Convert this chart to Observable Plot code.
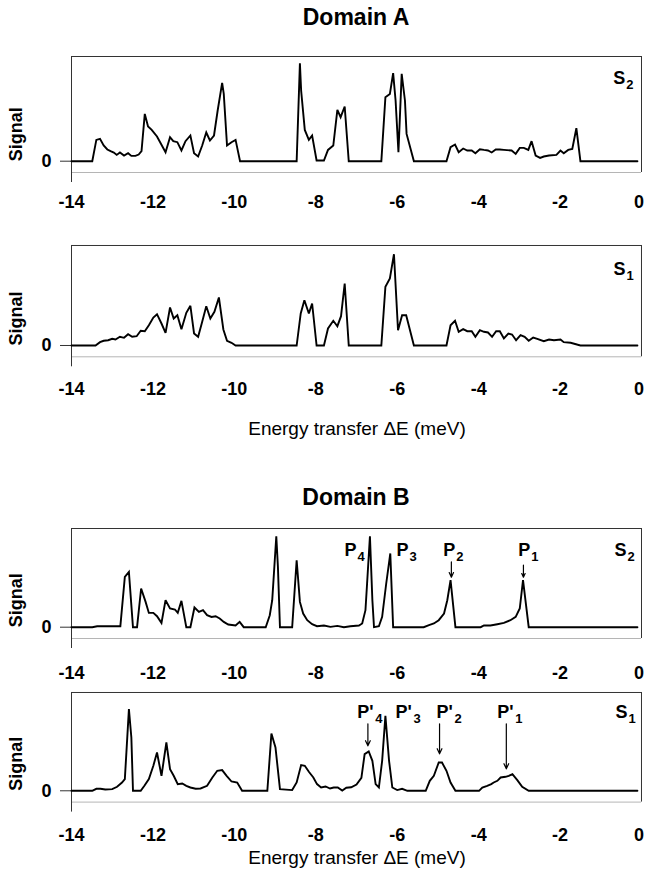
<!DOCTYPE html>
<html>
<head>
<meta charset="utf-8">
<script src="https://cdn.jsdelivr.net/npm/d3@7"></script>
<script src="https://cdn.jsdelivr.net/npm/@observablehq/plot@0.6"></script>
<style>
  body { margin: 0; background: #fff; }
  #fig { position: relative; width: 645px; height: 875px; overflow: hidden; font-family: "Liberation Sans", Arial, sans-serif; color: #000; }
  .title { position: absolute; left: 56px; width: 600px; text-align: center; font-weight: bold; font-size: 23px; line-height: 23px; }
  .xlab { position: absolute; left: 57px; width: 600px; text-align: center; font-size: 19px; line-height: 19px; }
  .panel { position: absolute; left: 0; }
</style>
</head>
<body>
<div id="fig"></div>
<script>
// ---------- data (Energy transfer ΔE in meV, signal in arbitrary units) ----------
const xTicks = [-14, -12, -10, -8, -6, -4, -2, 0];

// Domain A, S2
const eA2 = [-14,-13.49,-13.39,-13.30,-13.21,-13.12,-13.04,-12.96,-12.89,-12.81,-12.71,-12.61,-12.53,-12.43,-12.35,-12.28,-12.20,-12.12,-12.03,-11.90,-11.81,-11.69,-11.58,-11.50,-11.40,-11.30,-11.20,-11.08,-10.99,-10.89,-10.79,-10.69,-10.60,-10.50,-10.41,-10.30,-10.26,-10.18,-10.07,-9.97,-9.86,-8.47,-8.39,-8.36,-8.27,-8.17,-8.09,-7.98,-7.80,-7.70,-7.57,-7.47,-7.39,-7.29,-7.19,-6.39,-6.29,-6.18,-6.10,-6.04,-5.97,-5.89,-5.81,-5.77,-5.59,-4.79,-4.69,-4.58,-4.49,-4.38,-4.28,-4.17,-4.08,-3.97,-3.87,-3.77,-3.68,-3.58,-3.48,-3.38,-3.19,-3.09,-2.99,-2.89,-2.78,-2.70,-2.60,-2.49,-2.40,-2.27,-2.09,-1.99,-1.91,-1.80,-1.70,-1.60,-1.50,-0.1];
const sA2 = [0,0,21.3,22.3,15.7,11.7,10,8.7,6.3,8.7,5.7,8,5.3,5.3,6.7,10,47.3,34.7,31.3,24.7,18,9,24,20,19,10.7,20,25.7,8,4.7,15.7,28.7,20.7,25.7,50.7,78.3,67.3,15.7,19,21.3,0,0,98,70.7,31.3,21.3,25.7,0.7,0.7,11.3,15.7,51.3,44,54.7,0,0,64,67.3,88,60.7,9,87.3,60.7,27.3,0,0,14,16.7,9,12.7,10.7,10.7,8,12,11.3,10.7,8.7,11.7,11.7,11.3,10.7,7.3,13.3,13.3,11.3,20,5.7,3.3,4.7,5.7,6.3,10.7,8,11.3,12.3,33,0,0];

// Domain A, S1
const eA1 = [-14,-13.41,-13.30,-13.21,-13.10,-13.00,-12.92,-12.81,-12.71,-12.61,-12.51,-12.40,-12.30,-12.20,-12.10,-11.99,-11.90,-11.79,-11.69,-11.58,-11.49,-11.40,-11.30,-11.18,-11.08,-10.99,-10.89,-10.79,-10.69,-10.59,-10.49,-10.38,-10.27,-10.18,-10.07,-9.97,-8.47,-8.37,-8.28,-8.17,-8.09,-7.98,-7.80,-7.70,-7.57,-7.47,-7.38,-7.29,-7.19,-6.39,-6.29,-6.18,-6.08,-5.98,-5.88,-5.78,-5.59,-4.79,-4.69,-4.58,-4.49,-4.38,-4.28,-4.17,-4.08,-3.97,-3.87,-3.77,-3.67,-3.57,-3.48,-3.38,-3.27,-3.18,-3.08,-2.97,-2.87,-2.77,-2.66,-2.56,-2.40,-2.27,-2.15,-1.99,-1.91,-1.74,-1.50,-0.1];
const sA1 = [0,0,3.3,4.7,5.3,6.7,6,8.7,7.7,11.3,8.7,9.3,14.7,14.3,20.3,28,31.3,22,12.7,38,27,30.3,16.3,32.7,39.7,12,8.7,23.7,39.3,27,33.7,48,16,4.7,2.7,0,0,32,45.3,32,42,0,0,17,24.7,19.3,29.3,62,0,0,58.7,67,91.3,15.3,30.3,30.3,0,0,20.3,24.7,13.7,16.3,14.3,14.3,8.7,15.3,13.7,13,8.7,14.3,14.3,7,12,11,5.3,10.3,8.7,4.7,8,6.7,4.3,6,5.3,6,3.3,2.7,0,0];

// Domain B, S2
const eB2 = [-14,-13.49,-13.37,-12.80,-12.69,-12.59,-12.49,-12.39,-12.29,-12.18,-12.10,-11.99,-11.90,-11.79,-11.69,-11.58,-11.46,-11.39,-11.30,-11.18,-11.08,-10.98,-10.87,-10.77,-10.67,-10.56,-10.46,-10.36,-10.26,-10.15,-9.97,-9.87,-9.77,-9.23,-9.13,-9.07,-8.97,-8.93,-8.88,-8.58,-8.47,-8.39,-8.31,-8.21,-8.09,-7.97,-7.80,-7.64,-7.47,-7.31,-7.15,-6.94,-6.86,-6.78,-6.74,-6.67,-6.61,-6.57,-6.45,-6.37,-6.27,-6.17,-6.10,-5.35,-5.22,-5.10,-4.98,-4.85,-4.77,-4.69,-4.57,-3.95,-3.87,-3.71,-3.54,-3.38,-3.22,-3.09,-2.99,-2.91,-2.77,-0.1];
const sB2 = [0,0,1,1,50.3,55.3,0,0,38.7,25.3,14.3,14.3,11,4.3,27,18.7,17.7,14.3,26.3,0,0,19.7,15.3,17,12,10.3,11,8.7,5.3,2.7,1.7,5.3,0,0,12,27,91,60.3,0,0,67,25.3,13.7,7,3,1,1.7,0.3,1.3,0,1,1.7,3.7,17,43.7,91,27,0,1,10.3,43.7,73.7,0,0,2,3.7,7,13.7,27,47,0,0,1.7,1.7,3,4.3,7,10.3,18.7,47,0,0];

// Domain B, S1
const eB1 = [-14,-13.49,-13.39,-13.29,-13.17,-13.00,-12.88,-12.76,-12.69,-12.59,-12.53,-12.49,-12.30,-12.21,-12.10,-11.99,-11.90,-11.79,-11.67,-11.58,-11.49,-11.39,-11.28,-11.18,-11.08,-10.95,-10.83,-10.67,-10.54,-10.42,-10.30,-10.19,-10.07,-9.93,-9.81,-9.19,-9.09,-8.99,-8.88,-8.58,-8.47,-8.36,-8.27,-8.17,-8.06,-7.97,-7.87,-7.76,-7.65,-7.56,-7.46,-7.35,-7.25,-7.13,-7.00,-6.88,-6.80,-6.70,-6.61,-6.53,-6.45,-6.37,-6.29,-6.20,-6.12,-6.00,-5.88,-5.75,-5.30,-5.20,-5.10,-4.98,-4.90,-4.79,-4.69,-4.57,-3.99,-3.91,-3.79,-3.69,-3.63,-3.54,-3.46,-3.34,-3.26,-3.17,-3.05,-2.93,-2.77,-0.1];
const sB1 = [0,0,2,2,1.3,1.7,4,8.3,11.7,81.7,53.3,0,0,5,11.7,25,38.3,15,48.3,21.7,15,6.7,7.3,5,3.3,2,2.3,5,13.3,20,20.7,15,9.3,8.3,0,0,57.3,43.3,1.7,0.7,8.3,25.7,25,19,13.3,6.7,3.3,4.3,2.3,3.3,3.3,0.3,3,3.5,6.3,13,36.7,39.3,30,6.7,3.3,30,75,30,3.3,0.7,2,0,0,10,15,28.3,28.3,20,8.3,0,0,3.3,5,6.7,8.3,10,13.3,14,15,16.7,10.7,4,0,0];

// Annotations: label anchor energy and level (same units as the data)
const annA2 = [{E: -0.695, y: 77.4, t: "S", s: "2"}];
const annA1 = [{E: -0.688, y: 70.3, t: "S", s: "1"}];
const annB2 = [
  {E: -7.295, y: 71, t: "P", s: "4"},
  {E: -6.018, y: 71, t: "P", s: "3"},
  {E: -4.870, y: 71, t: "P", s: "2"},
  {E: -3.028, y: 71, t: "P", s: "1"},
  {E: -0.663, y: 71, t: "S", s: "2"}
];
const annB1 = [
  {E: -6.983, y: 72.3, t: "P'", s: "4"},
  {E: -6.042, y: 72.3, t: "P'", s: "3"},
  {E: -5.035, y: 72.3, t: "P'", s: "2"},
  {E: -3.544, y: 72.3, t: "P'", s: "1"},
  {E: -0.639, y: 72.3, t: "S", s: "1"}
];
const arrowsB2 = [{E: -4.67, from: 65.3, to: 50}, {E: -2.90, from: 62, to: 50}];
const arrowsB1 = [{E: -6.72, from: 67, to: 45}, {E: -4.96, from: 67, to: 37}, {E: -3.32, from: 67, to: 22}];

// ---------- drawing ----------
const FONT = "'Liberation Sans', Arial, Helvetica, sans-serif";
const fig = document.getElementById("fig");

function addDiv(cls, text, top) {
  const d = document.createElement("div");
  d.className = cls;
  d.textContent = text;
  d.style.top = top + "px";
  fig.appendChild(d);
}

function panel(E, S, cfg) {
  const data = E.map((e, i) => ({E: e, v: S[i]}));
  const yMin = -11.3;
  const mt = 10, mb = 50;
  const h = mt + (cfg.yMax - yMin) + mb;
  const single = cfg.ann.filter(d => d.t.length === 1);
  const primed = cfg.ann.filter(d => d.t.length === 2);
  const innerTicks = xTicks.filter(t => t !== 0);
  const edgeTicks = xTicks.filter(t => t === 0);
  const marks = [
    Plot.ruleY([yMin], {stroke: "#b5b5b5", strokeWidth: 1}),
    Plot.ruleY([cfg.yMax], {stroke: "#333", strokeWidth: 1}),
    Plot.ruleX([-14], {y1: yMin - 10, y2: cfg.yMax, stroke: "#333", strokeWidth: 1}),
    Plot.ruleX([0], {y1: yMin, y2: cfg.yMax, stroke: "#333", strokeWidth: 1}),
    Plot.axisX(innerTicks, {tickSize: 0, tickPadding: cfg.tickPad, tickFormat: d => String(d), fontSize: 18, fontWeight: "bold", label: null}),
    Plot.axisX(edgeTicks, {tickSize: 0, tickPadding: cfg.tickPad, tickFormat: d => String(d), fontSize: 18, fontWeight: "bold", label: null, dx: -2.5}),
    Plot.axisY([0], {tickSize: 11, tickPadding: 9, tickFormat: d => String(d), fontSize: 18, fontWeight: "bold", label: null, stroke: "#333"}),
    Plot.text(["Signal"], {x: -14, y: 0, text: d => d, rotate: -90, textAnchor: "start", dx: -55, fontSize: 18, fontWeight: "bold"}),
    Plot.line(data, {x: "E", y: "v", stroke: "#000", strokeWidth: 1.9, strokeLinejoin: "miter", strokeMiterlimit: 3}),
    Plot.text(cfg.ann, {x: "E", y: "y", text: "t", textAnchor: "start", lineAnchor: "bottom", fontSize: 18, fontWeight: "bold"}),
    Plot.text(single, {x: "E", y: "y", text: "s", textAnchor: "start", lineAnchor: "bottom", dx: 13, dy: 5, fontSize: 13, fontWeight: "bold"}),
    Plot.text(primed, {x: "E", y: "y", text: "s", textAnchor: "start", lineAnchor: "bottom", dx: 18, dy: 5, fontSize: 13, fontWeight: "bold"})
  ];
  if (cfg.arrows) {
    marks.push(Plot.arrow(cfg.arrows, {x1: "E", x2: "E", y1: "from", y2: "to", stroke: "#000", strokeWidth: 1.2, headLength: 7, headAngle: 50}));
  }
  const svg = Plot.plot({
    width: 645, height: h,
    marginLeft: 71, marginRight: 4, marginTop: mt, marginBottom: mb,
    style: {fontFamily: FONT, color: "#000", background: "transparent", overflow: "hidden"},
    x: {domain: [-14, 0], label: null},
    y: {domain: [yMin, cfg.yMax], label: null},
    marks
  });
  svg.classList.add("panel");
  svg.style.top = (cfg.top - mt) + "px";
  fig.appendChild(svg);
}

addDiv("title", "Domain A", 6);
panel(eA2, sA2, {top: 56, yMax: 104.7, tickPad: 23, ann: annA2});
panel(eA1, sA1, {top: 245.3, yMax: 100, tickPad: 25, ann: annA1});
addDiv("xlab", "Energy transfer \u0394E (meV)", 419);

addDiv("title", "Domain B", 486);
panel(eB2, sB2, {top: 528.3, yMax: 98.7, tickPad: 28, ann: annB2, arrows: arrowsB2});
panel(eB1, sB1, {top: 691.7, yMax: 98.3, tickPad: 26, ann: annB1, arrows: arrowsB1});
addDiv("xlab", "Energy transfer \u0394E (meV)", 848);
</script>
</body>
</html>
